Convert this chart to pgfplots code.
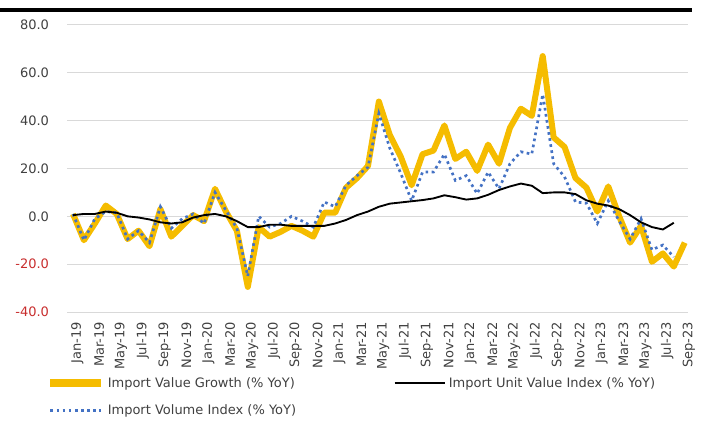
\documentclass[border=0pt]{standalone}
\usepackage{fontspec}
\setmainfont{DejaVu Sans}
\usepackage{pgfplots}
\usepackage{pgfplotstable}
\pgfplotsset{compat=1.18}
\definecolor{gold}{RGB}{245,188,0}
\definecolor{vblue}{RGB}{68,114,196}
\definecolor{negred}{RGB}{200,45,45}
\definecolor{gridc}{RGB}{217,217,217}
\definecolor{lab}{RGB}{64,64,64}

\pgfplotstableread{
m val vol unit
0 1 1 0.5
1 -10 -10 1
2 -3 -1 1
3 4.5 2 2
4 1 1.5 1.5
5 -9.5 -9.5 0
6 -6 -6 -0.5
7 -12.5 -11 -1.3
8 3 4 -2.5
9 -8.5 -5 -3
10 -4 -1 -2.5
11 0.5 1 -0.5
12 -2 -3 0.5
13 11.5 10 1
14 2 2.5 0
15 -6 -5 -2
16 -29.5 -25 -4.5
17 -4.5 0 -4.5
18 -8.5 -4.5 -3.5
19 -6.5 -3 -3.5
20 -4 0 -4
21 -6 -2 -4
22 -8.5 -4.5 -4
23 1.5 6 -4
24 1.5 4 -3
25 12 13 -1.5
26 16 17 0.5
27 21 20.5 2
28 48 43 4
29 34 28.5 5.3
30 25 18 5.8
31 13 6.5 6.3
32 26 18.5 6.8
33 27.5 18.5 7.5
34 38 26 8.8
35 24 15 8
36 27 17 7
37 19 9.5 7.5
38 30 18.5 9
39 22 11.5 11
40 37 22 12.5
41 45 27 13.7
42 42 26 12.8
43 67 51 9.7
44 33 22 10
45 29 16.5 10
46 16 6 9.3
47 12 5.5 6.7
48 2 -3 5.3
49 12.5 6.5 4.5
50 0 -2 3
51 -11 -9.5 0.5
52 -4 -1 -2.5
53 -19 -14 -4.5
54 -15.5 -12 -5.5
55 -21 -17 -2.7
56 -11 nan nan
}\data

\begin{document}
\begin{tikzpicture}
\fill[black] (0pt,-6.2pt) rectangle (519pt,-9.2pt);
\begin{axis}[
  at={(50.25pt,-234pt)}, anchor=south west,
  scale only axis, width=465.75pt, height=215.25pt,
  xmin=-0.55, xmax=56.3, ymin=-40, ymax=80,
  ytick={-40,-20,0,20,40,60,80},
  yticklabels={\textcolor{negred}{-40.0},\textcolor{negred}{-20.0},0.0,20.0,40.0,60.0,80.0},
  xtick={0,2,...,56},
  xticklabels={Jan-19,Mar-19,May-19,Jul-19,Sep-19,Nov-19,Jan-20,Mar-20,May-20,Jul-20,Sep-20,Nov-20,Jan-21,Mar-21,May-21,Jul-21,Sep-21,Nov-21,Jan-22,Mar-22,May-22,Jul-22,Sep-22,Nov-22,Jan-23,Mar-23,May-23,Jul-23,Sep-23},
  ymajorgrids, grid style={gridc, line width=0.75pt},
  axis line style={draw=none}, major tick length=0pt,
  tick label style={font=\fontsize{9.75}{11}\selectfont, text=lab},
  yticklabel style={xshift=-10pt},
  xticklabel style={rotate=90, anchor=east, yshift=-3.2pt, xshift=-4pt},
  unbounded coords=jump,
  legend columns=2,
  legend cell align=left,
  legend image code/.code={\draw[#1] (0pt,0pt) -- (38pt,0pt);},
  legend style={at={(-0.040,-0.208)}, anchor=north west, draw=none, fill=none,
    font=\fontsize{9.75}{11}\selectfont, text=lab, row sep=7.5pt,
    /tikz/every even column/.append style={column sep=71pt}},
]
\addplot[gold, line width=4.5pt, line join=round, forget plot] table[x=m, y=val] {\data};
\addplot[vblue, line width=2pt, dash pattern=on 2pt off 2.6pt, forget plot] table[x=m, y=vol] {\data};
\addplot[black, line width=1.4pt, line join=round, forget plot] table[x=m, y=unit] {\data};
\addlegendimage{gold, line width=6pt}
\addlegendentry{Import Value Growth (\% YoY)}
\addlegendimage{black, line width=1.5pt}
\addlegendentry{Import Unit Value Index (\% YoY)}
\addlegendimage{vblue, line width=2pt, dash pattern=on 2pt off 2.6pt}
\addlegendentry{Import Volume Index (\% YoY)}
\end{axis}
\pgfresetboundingbox
\useasboundingbox (0pt,0pt) rectangle (525.75pt,-318pt);
\end{tikzpicture}
\end{document}
